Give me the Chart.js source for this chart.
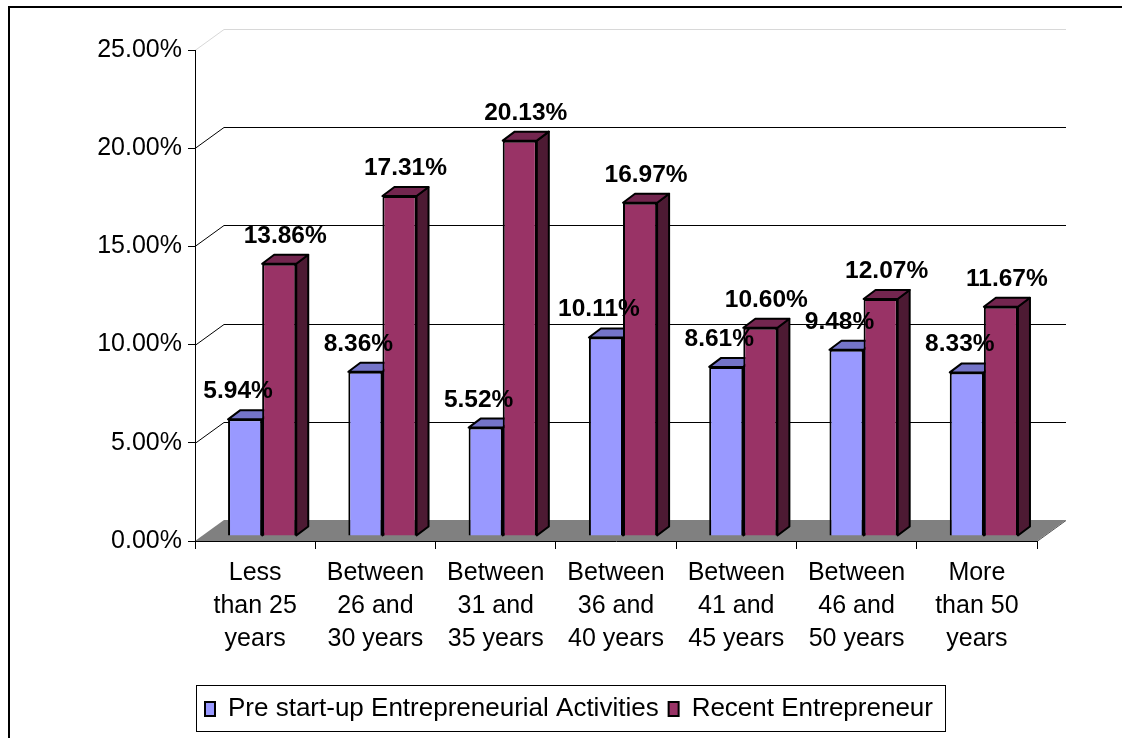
<!DOCTYPE html>
<html>
<head>
<meta charset="utf-8">
<script src="https://cdn.jsdelivr.net/npm/chart.js@4.4.1/dist/chart.umd.min.js"></script>
<style>
  body { margin: 0; background: #fff; }
  #wrap { width: 1122px; height: 738px; }
</style>
</head>
<body>
<div id="wrap"><canvas id="myChart"></canvas></div>
<script>
var categories = [
    ['Less', 'than 25', 'years'],
    ['Between', '26 and', '30 years'],
    ['Between', '31 and', '35 years'],
    ['Between', '36 and', '40 years'],
    ['Between', '41 and', '45 years'],
    ['Between', '46 and', '50 years'],
    ['More', 'than 50', 'years']
];
var preStartup = [5.94, 8.36, 5.52, 10.11, 8.61, 9.48, 8.33];
var recentEntrepreneur = [13.86, 17.31, 20.13, 16.97, 10.60, 12.07, 11.67];
var yTickValues = [0, 5, 10, 15, 20, 25];

var FONT = "'Liberation Sans', Arial, sans-serif";

// fake 3d look: bar depth, bar shift inside the floor, floor/wall depth
var DX = 12, DY = -9;
var SHIFT_X = 7, SHIFT_Y = -5;
var WALL_X = 29, WALL_Y = -21;

var faceColors = [
    { top: '#7474c8', side: '#6a6ab8' },
    { top: '#73264f', side: '#4d1a33' }
];
var labelOffsets = [0, 13];

var fake3d = {
    id: 'fake3d',
    beforeDraw: function(chart) {
        var ctx = chart.ctx;
        var area = chart.chartArea;
        var y = chart.scales.y;
        ctx.save();
        ctx.fillStyle = '#fff';
        ctx.fillRect(0, 0, chart.width, chart.height);
        // outer frame
        ctx.fillStyle = '#000';
        ctx.fillRect(8, 6, chart.width - 8, 2);
        ctx.fillRect(8, 6, 2, chart.height - 6);

        // floor
        ctx.beginPath();
        ctx.moveTo(area.left, area.bottom);
        ctx.lineTo(area.right, area.bottom);
        ctx.lineTo(area.right + WALL_X, area.bottom + WALL_Y);
        ctx.lineTo(area.left + WALL_X, area.bottom + WALL_Y);
        ctx.closePath();
        ctx.fillStyle = '#808080';
        ctx.fill();
        ctx.strokeStyle = '#555';
        ctx.lineWidth = 1;
        ctx.beginPath();
        ctx.moveTo(area.right, area.bottom + 0.5);
        ctx.lineTo(area.right + WALL_X, area.bottom + WALL_Y + 0.5);
        ctx.stroke();

        // back wall grid lines
        yTickValues.forEach(function(v) {
            if (v === 0) return;
            var py = Math.round(y.getPixelForValue(v)) + 0.5;
            ctx.strokeStyle = v === 25 ? '#d8d8d8' : '#000';
            ctx.beginPath();
            ctx.moveTo(area.left, py);
            ctx.lineTo(area.left + WALL_X, py + WALL_Y);
            ctx.lineTo(area.right + WALL_X, py + WALL_Y);
            ctx.stroke();
        });
        ctx.restore();
    },
    beforeDatasetsDraw: function(chart) {
        var ctx = chart.ctx;
        ctx.save();
        ctx.translate(SHIFT_X, SHIFT_Y);
        ctx.lineWidth = 2;
        ctx.strokeStyle = '#000';
        ctx.lineJoin = 'round';
        chart.data.datasets.forEach(function(ds, i) {
            chart.getDatasetMeta(i).data.forEach(function(bar) {
                var l = bar.x - bar.width / 2, r = bar.x + bar.width / 2;
                var t = bar.y, b = bar.base;
                // side
                ctx.beginPath();
                ctx.moveTo(r, t);
                ctx.lineTo(r + DX, t + DY);
                ctx.lineTo(r + DX, b + DY);
                ctx.lineTo(r, b);
                ctx.closePath();
                ctx.fillStyle = faceColors[i].side;
                ctx.fill();
                ctx.stroke();
                // top
                ctx.beginPath();
                ctx.moveTo(l, t);
                ctx.lineTo(r, t);
                ctx.lineTo(r + DX, t + DY);
                ctx.lineTo(l + DX, t + DY);
                ctx.closePath();
                ctx.fillStyle = faceColors[i].top;
                ctx.fill();
                ctx.stroke();
            });
        });
        // keep the shift while chart.js draws the front faces
    },
    afterDatasetsDraw: function(chart) {
        var ctx = chart.ctx;
        ctx.restore();
        ctx.save();
        ctx.font = 'bold 24.5px ' + FONT;
        ctx.fillStyle = '#000';
        ctx.textAlign = 'center';
        ctx.textBaseline = 'alphabetic';
        chart.data.datasets.forEach(function(ds, i) {
            chart.getDatasetMeta(i).data.forEach(function(bar, j) {
                ctx.fillText(ds.data[j].toFixed(2) + '%', bar.x + labelOffsets[i], bar.y + SHIFT_Y - 21);
            });
        });
        ctx.restore();
    },
    afterDraw: function(chart) {
        var boxes = chart.legend.legendHitBoxes;
        if (!boxes || !boxes.length) return;
        var ctx = chart.ctx;
        var first = boxes[0], last = boxes[boxes.length - 1];
        var left = first.left - 9;
        var right = last.left + last.width + 12;
        var top = first.top - 11;
        ctx.save();
        ctx.strokeStyle = '#000';
        ctx.lineWidth = 1;
        ctx.strokeRect(Math.round(left) + 0.5, Math.round(top) + 0.5, Math.round(right - left), 46);
        ctx.restore();
    }
};

var ctx = document.getElementById('myChart').getContext('2d');
var myChart = new Chart(ctx, {
    type: 'bar',
    data: {
        labels: categories,
        datasets: [{
            label: 'Pre start-up Entrepreneurial Activities',
            data: preStartup,
            backgroundColor: '#9999ff',
            borderColor: '#000',
            borderWidth: 2,
            clip: false
        }, {
            label: 'Recent Entrepreneur',
            data: recentEntrepreneur,
            backgroundColor: '#993366',
            borderColor: '#000',
            borderWidth: 2,
            clip: false
        }]
    },
    options: {
        responsive: true,
        maintainAspectRatio: false,
        animation: false,
        layout: { padding: { top: 50, right: 85, left: 0, bottom: 6 } },
        datasets: {
            bar: { barPercentage: 1, categoryPercentage: 0.567 }
        },
        scales: {
            x: {
                grid: { drawOnChartArea: false, color: '#000', tickLength: 8 },
                border: { color: '#000', width: 1 },
                ticks: {
                    color: '#000',
                    font: { family: FONT, size: 25, lineHeight: 1.32 },
                    padding: 8,
                    autoSkip: false,
                    maxRotation: 0
                },
                afterFit: function(scale) { scale.height = 145; }
            },
            y: {
                min: 0,
                max: 25,
                grid: { drawOnChartArea: false, color: '#000', tickLength: 7 },
                border: { color: '#000', width: 1 },
                ticks: {
                    stepSize: 5,
                    color: '#000',
                    padding: 6,
                    font: { family: FONT, size: 25 },
                    callback: function(value) { return value.toFixed(2) + '%'; }
                },
                afterFit: function(scale) { scale.width = 195; }
            }
        },
        plugins: {
            legend: {
                display: true,
                position: 'bottom',
                align: 'start',
                fullSize: false,
                labels: {
                    boxWidth: 10,
                    boxHeight: 14,
                    padding: 10,
                    color: '#000',
                    font: { family: FONT, size: 26 }
                }
            },
            tooltip: { enabled: false }
        }
    },
    plugins: [fake3d]
});
</script>
</body>
</html>
